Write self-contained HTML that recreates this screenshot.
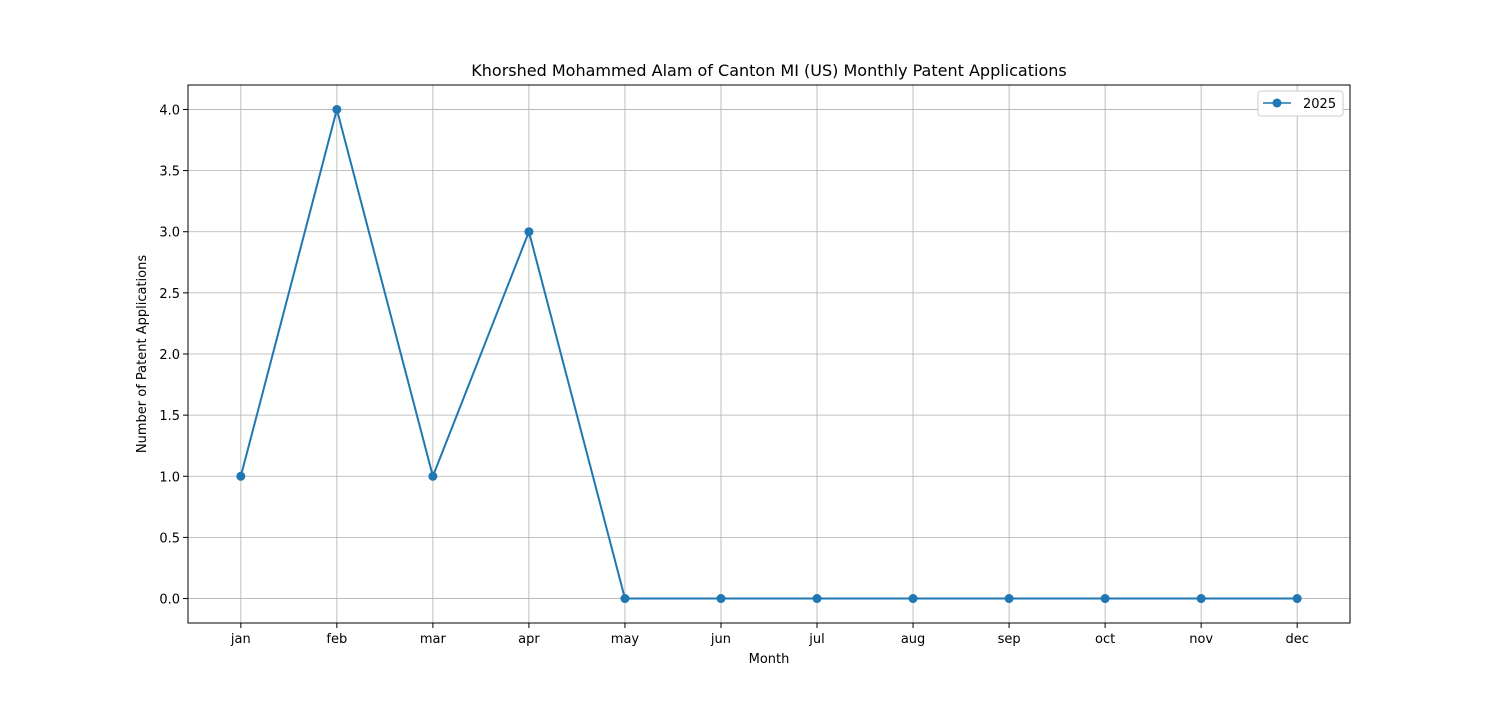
<!DOCTYPE html>
<html><head><meta charset="utf-8"><style>
body{margin:0;background:#fff;}
svg text{font-family:"DejaVu Sans","Liberation Sans",sans-serif;}
</style></head><body>
<svg id="chart" width="1500" height="700" xmlns="http://www.w3.org/2000/svg">
<rect width="1500" height="700" fill="#fff"/>
<text x="769" y="76" font-size="16" text-anchor="middle">Khorshed Mohammed Alam of Canton MI (US) Monthly Patent Applications</text>
<g id="grid"></g>
<g id="ticks"></g>
<g id="series"></g>
<rect x="188" y="85" width="1162" height="538" fill="none" stroke="#000" stroke-width="1"/>
<text x="769" y="663" font-size="13" text-anchor="middle">Month</text>
<text x="146" y="354" font-size="13" text-anchor="middle" transform="rotate(-90 146 354)">Number of Patent Applications</text>
<g>
<rect x="1258" y="91" width="85" height="25" rx="3" fill="#fff" stroke="#ccc"/>
<line x1="1263" y1="103" x2="1291" y2="103" stroke="#1f77b4" stroke-width="1.5"/>
<circle cx="1277" cy="103" r="4.5" fill="#1f77b4"/>
<text x="1303" y="108" font-size="13">2025</text>
</g>
</svg>
<script>
const months=["jan","feb","mar","apr","may","jun","jul","aug","sep","oct","nov","dec"];
const values2025=[1,4,1,3,0,0,0,0,0,0,0,0];
const yTicks=[0,0.5,1,1.5,2,2.5,3,3.5,4];
const yTickLabels=["0.0","0.5","1.0","1.5","2.0","2.5","3.0","3.5","4.0"];
const NS="http://www.w3.org/2000/svg";
const L=188,R=1350,T=85,B=623;
const xs=i=>L+(i+0.55)/12.1*(R-L);
const ys=v=>B-(v+0.2)/4.4*(B-T);
function mk(tag,attrs,parent){const e=document.createElementNS(NS,tag);for(const k in attrs)e.setAttribute(k,attrs[k]);parent.appendChild(e);return e;}
const grid=document.getElementById('grid'),ticks=document.getElementById('ticks'),ser=document.getElementById('series');
months.forEach((m,i)=>{
 const x=xs(i);
 const g=mk('line',{x1:x,x2:x,y1:T,y2:B,stroke:'#b0b0b0','stroke-width':0.8},grid);
 
 
 mk('line',{x1:x,x2:x,y1:B,y2:B+5,stroke:'#000'},ticks);
 const t=mk('text',{x:x,y:B+20,'font-size':13,'text-anchor':'middle'},ticks);
 t.textContent=m;
 
 
});
yTicks.forEach((v,i)=>{
 const y=ys(v);
 const g=mk('line',{x1:L,x2:R,y1:y,y2:y,stroke:'#b0b0b0','stroke-width':0.8},grid);
 
 
 mk('line',{x1:L-5,x2:L,y1:y,y2:y,stroke:'#000'},ticks);
 const t=mk('text',{x:L-8,y:y+5,'font-size':13,'text-anchor':'end'},ticks);
 t.textContent=yTickLabels[i];
 
 
});
const pts=values2025.map((v,i)=>xs(i)+','+ys(v)).join(' ');
const pl=mk('polyline',{points:pts,fill:'none',stroke:'#1f77b4','stroke-width':2},ser);


values2025.forEach((v,i)=>{
 const c=mk('circle',{cx:xs(i),cy:ys(v),r:4.5,fill:'#1f77b4'},ser);
 
 
});
</script>
</body></html>
